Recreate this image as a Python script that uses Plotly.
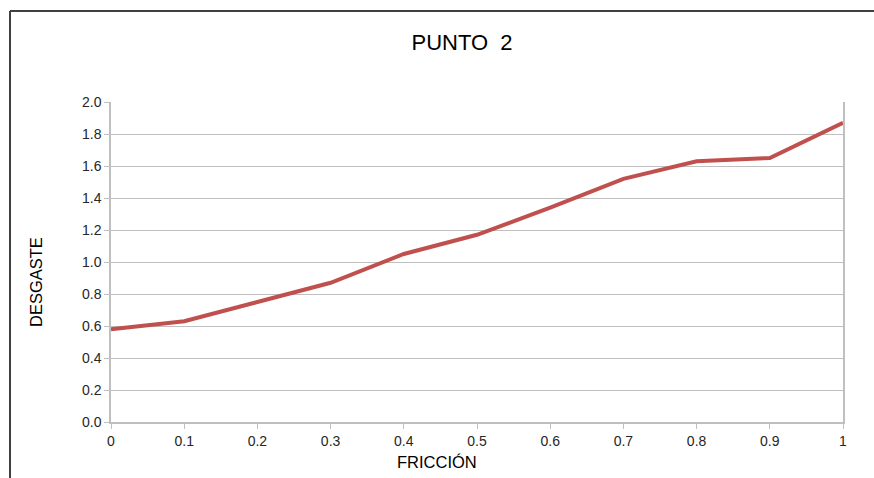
import plotly.graph_objects as go

# Friction coefficient vs. wear
friccion = [0, 0.1, 0.2, 0.3, 0.4, 0.5, 0.6, 0.7, 0.8, 0.9, 1.0]
desgaste = [0.58, 0.63, 0.75, 0.87, 1.05, 1.17, 1.34, 1.52, 1.63, 1.65, 1.87]

x_ticks = [0, 0.1, 0.2, 0.3, 0.4, 0.5, 0.6, 0.7, 0.8, 0.9, 1.0]
x_labels = ["0", "0.1", "0.2", "0.3", "0.4", "0.5", "0.6", "0.7", "0.8", "0.9", "1"]
y_ticks = [0.0, 0.2, 0.4, 0.6, 0.8, 1.0, 1.2, 1.4, 1.6, 1.8, 2.0]
y_labels = ["%.1f" % v for v in y_ticks]

W, H = 874, 478
L, R, T, B = 111, 31, 102, 56
pw, ph = W - L - R, H - T - B

def px_to_paper_x(px):
    return (px - L) / pw

def px_to_paper_y(py):
    return (H - B - py) / ph

fig = go.Figure()
fig.add_trace(go.Scatter(
    x=friccion, y=desgaste, mode="lines",
    line=dict(color="#C0504D", width=4),
    showlegend=False, hoverinfo="x+y",
))

font = "Liberation Sans, Arial, sans-serif"
grid = "#BFBFBF"
tick_color = "#262626"

fig.update_layout(
    width=W, height=H,
    margin=dict(l=L, r=R, t=T, b=B),
    paper_bgcolor="white", plot_bgcolor="white",
    font=dict(family=font, color=tick_color, size=14),
    title=dict(text="PUNTO\u00a0 2", x=462 / W,
               xanchor="center", y=1 - 42 / H, yanchor="middle",
               font=dict(size=22, color="#000000", family=font)),
    xaxis=dict(
        range=[0, 1], tickvals=x_ticks, ticktext=x_labels,
        showgrid=False, zeroline=False,
        showline=True, linecolor=grid, linewidth=1.5,
        ticks="outside", ticklen=5, tickcolor=grid, tickwidth=1,
        tickfont=dict(size=14, color=tick_color),
    ),
    yaxis=dict(
        range=[0, 2], tickvals=y_ticks, ticktext=y_labels,
        showgrid=True, gridcolor=grid, gridwidth=1.2, zeroline=False,
        showline=True, mirror=True, linecolor=grid, linewidth=1.5,
        ticks="outside", ticklen=5, tickcolor=grid, tickwidth=1,
        tickfont=dict(size=14, color=tick_color),
    ),
)

# Axis titles
fig.add_annotation(text="FRICCIÓN", xref="paper", yref="paper",
                   x=px_to_paper_x(437), y=px_to_paper_y(462),
                   xanchor="center", yanchor="middle", showarrow=False,
                   font=dict(size=16.5, color="#000000", family=font))
fig.add_annotation(text="DESGASTE", xref="paper", yref="paper",
                   x=px_to_paper_x(36), y=px_to_paper_y(282), textangle=-90,
                   xanchor="center", yanchor="middle", showarrow=False,
                   font=dict(size=16.5, color="#000000", family=font))

# Frame around the chart area (top and left edges)
bx, by = px_to_paper_x(10), px_to_paper_y(11)
fig.add_shape(type="line", xref="paper", yref="paper",
              x0=bx, x1=px_to_paper_x(W + 5), y0=by, y1=by,
              line=dict(color="#404040", width=2))
fig.add_shape(type="line", xref="paper", yref="paper",
              x0=bx, x1=bx, y0=by, y1=px_to_paper_y(H + 5),
              line=dict(color="#404040", width=2))

fig.write_html("out.html")
